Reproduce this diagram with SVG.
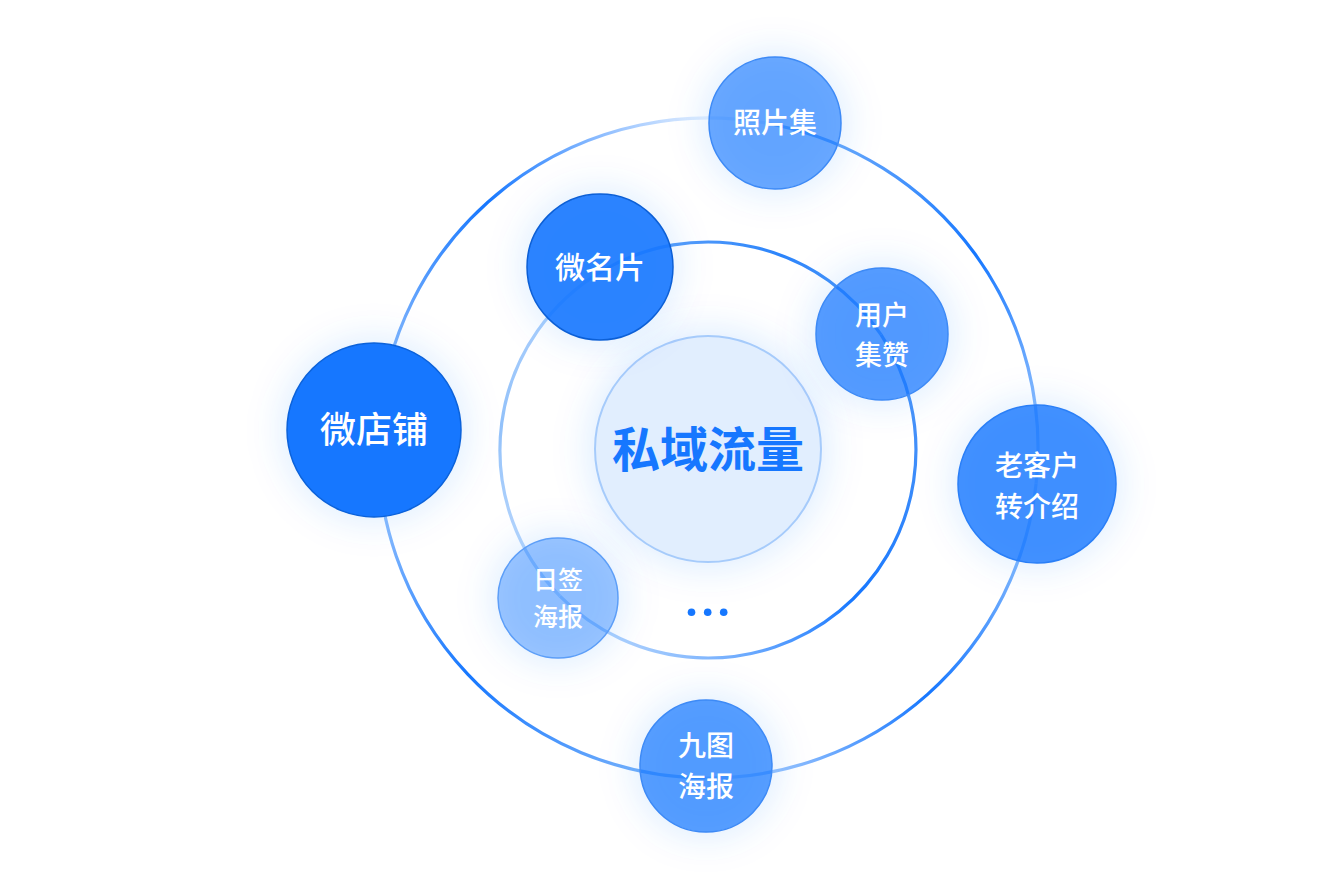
<svg xmlns="http://www.w3.org/2000/svg" width="1340" height="880" viewBox="0 0 1340 880">
  <defs>
    <filter id="glow" x="-80%" y="-80%" width="260%" height="260%">
      <feGaussianBlur stdDeviation="18"/>
    </filter>
    <linearGradient id="o1" gradientUnits="userSpaceOnUse" x1="774.4" y1="124.7" x2="1036.1" y2="483.6">
      <stop offset="0" stop-color="#7fb6fa"/><stop offset="0.5" stop-color="#1677ff"/><stop offset="1" stop-color="#b3d4fd"/>
    </linearGradient>
    <linearGradient id="o2" gradientUnits="userSpaceOnUse" x1="1036.1" y1="483.6" x2="705.7" y2="778">
      <stop offset="0" stop-color="#a9cffc"/><stop offset="0.5" stop-color="#1677ff"/><stop offset="1" stop-color="#c2dcfd"/>
    </linearGradient>
    <linearGradient id="o3" gradientUnits="userSpaceOnUse" x1="705.7" y1="778" x2="378.5" y2="430.2">
      <stop offset="0" stop-color="#8cbefa"/><stop offset="0.5" stop-color="#1677ff"/><stop offset="1" stop-color="#b8d7fd"/>
    </linearGradient>
    <linearGradient id="o4" gradientUnits="userSpaceOnUse" x1="378.5" y1="430.2" x2="774.4" y2="124.7">
      <stop offset="0" stop-color="#a6cbfb"/><stop offset="0.45" stop-color="#1677ff"/><stop offset="0.9" stop-color="#e3efff"/><stop offset="1" stop-color="#e3efff"/>
    </linearGradient>
    <linearGradient id="i1" gradientUnits="userSpaceOnUse" x1="602.4" y1="270.8" x2="881.0" y2="334.6">
      <stop offset="0" stop-color="#6fabf9"/><stop offset="0.6" stop-color="#2b84fb"/><stop offset="1" stop-color="#5c9ff8"/>
    </linearGradient>
    <linearGradient id="i2" gradientUnits="userSpaceOnUse" x1="881.0" y1="334.6" x2="559.9" y2="596.1">
      <stop offset="0" stop-color="#4e96f8"/><stop offset="0.45" stop-color="#1677ff"/><stop offset="1" stop-color="#b8d7fd"/>
    </linearGradient>
    <linearGradient id="i3" gradientUnits="userSpaceOnUse" x1="559.9" y1="596.1" x2="602.4" y2="270.8">
      <stop offset="0" stop-color="#c3ddfd"/><stop offset="0.5" stop-color="#92c1fa"/><stop offset="1" stop-color="#b5d5fd"/>
    </linearGradient>
  </defs>
  <style>
    .ring { fill: none; stroke-width: 3.2; }
    .halo { fill: #1677ff; fill-opacity: 0.13; }
    .node { stroke-width: 1.5; }
    .lbl { font-family: "Noto Sans CJK SC", "Noto Sans", sans-serif; font-weight: 500; fill: #ffffff; text-anchor: middle; }
    .center-lbl { font-family: "Noto Sans CJK SC", "Noto Sans", sans-serif; font-weight: 700; fill: #1677ff; text-anchor: middle; font-size: 48px; }
  </style>
  <rect width="1340" height="880" fill="#ffffff"/>

  <g id="center">
    <circle cx="708" cy="449" r="120" class="halo" filter="url(#glow)" fill-opacity="0.07"/>
    <circle cx="708" cy="449" r="113" fill="#e1eefe" stroke="#a6cbfb" stroke-width="2"/>
    <text x="708" y="467" class="center-lbl">私域流量</text>
  </g>

  <g id="connectors">
    <path class="ring" stroke="url(#o1)" d="M 774.4 124.7 A 330 330 0 0 1 1036.1 483.6"/>
    <path class="ring" stroke="url(#o2)" d="M 1036.1 483.6 A 330 330 0 0 1 705.7 778"/>
    <path class="ring" stroke="url(#o3)" d="M 705.7 778 A 330 330 0 0 1 378.5 430.2"/>
    <path class="ring" stroke="url(#o4)" d="M 378.5 430.2 A 330 330 0 0 1 774.4 124.7"/>
    <path class="ring" stroke="url(#i1)" d="M 602.4 270.8 A 208 208 0 0 1 881.0 334.6"/>
    <path class="ring" stroke="url(#i2)" d="M 881.0 334.6 A 208 208 0 0 1 559.9 596.1"/>
    <path class="ring" stroke="url(#i3)" d="M 559.9 596.1 A 208 208 0 0 1 602.4 270.8"/>
  </g>

  <g id="dots" fill="#1677ff">
    <circle cx="691.5" cy="612.3" r="3.8"/>
    <circle cx="707.7" cy="612.3" r="3.8"/>
    <circle cx="723.7" cy="612.3" r="3.8"/>
  </g>

  <g id="node-zhaopianji">
    <circle cx="775" cy="123" r="72" class="halo" filter="url(#glow)"/>
    <circle cx="775" cy="123" r="66" class="node" fill="#1677ff" fill-opacity="0.62" stroke="#3d8af6"/>
    <text x="775" y="133" class="lbl" font-size="28">照片集</text>
  </g>

  <g id="node-weimingpian">
    <circle cx="600" cy="267" r="78" class="halo" filter="url(#glow)"/>
    <circle cx="600" cy="267" r="73" class="node" fill="#1677ff" fill-opacity="0.9" stroke="#0b5fd6"/>
    <text x="600" y="278" class="lbl" font-size="30">微名片</text>
  </g>

  <g id="node-yonghujizan">
    <circle cx="882" cy="334" r="72" class="halo" filter="url(#glow)"/>
    <circle cx="882" cy="334" r="66" class="node" fill="#1677ff" fill-opacity="0.71" stroke="#3d8af6"/>
    <text x="882" y="325" class="lbl" font-size="27">用户</text>
    <text x="882" y="365" class="lbl" font-size="27">集赞</text>
  </g>

  <g id="node-weidianpu">
    <circle cx="374" cy="430" r="92" class="halo" filter="url(#glow)"/>
    <circle cx="374" cy="430" r="87" class="node" fill="#1677ff" stroke="#0b62da"/>
    <text x="374" y="443" class="lbl" font-size="36">微店铺</text>
  </g>

  <g id="node-laokehu">
    <circle cx="1037" cy="484" r="84" class="halo" filter="url(#glow)"/>
    <circle cx="1037" cy="484" r="79" class="node" fill="#1677ff" fill-opacity="0.8" stroke="#2a7ff7"/>
    <text x="1037" y="476" class="lbl" font-size="28">老客户</text>
    <text x="1037" y="517" class="lbl" font-size="28">转介绍</text>
  </g>

  <g id="node-riqian">
    <circle cx="558" cy="598" r="66" class="halo" filter="url(#glow)"/>
    <circle cx="558" cy="598" r="60" class="node" fill="#1677ff" fill-opacity="0.4" stroke="#5c9ef8"/>
    <text x="558" y="589" class="lbl" font-size="25">日签</text>
    <text x="558" y="626" class="lbl" font-size="25">海报</text>
  </g>

  <g id="node-jiutu">
    <circle cx="706" cy="766" r="72" class="halo" filter="url(#glow)"/>
    <circle cx="706" cy="766" r="66" class="node" fill="#1677ff" fill-opacity="0.7" stroke="#3d8af6"/>
    <text x="706" y="756" class="lbl" font-size="28">九图</text>
    <text x="706" y="797" class="lbl" font-size="28">海报</text>
  </g>
</svg>
